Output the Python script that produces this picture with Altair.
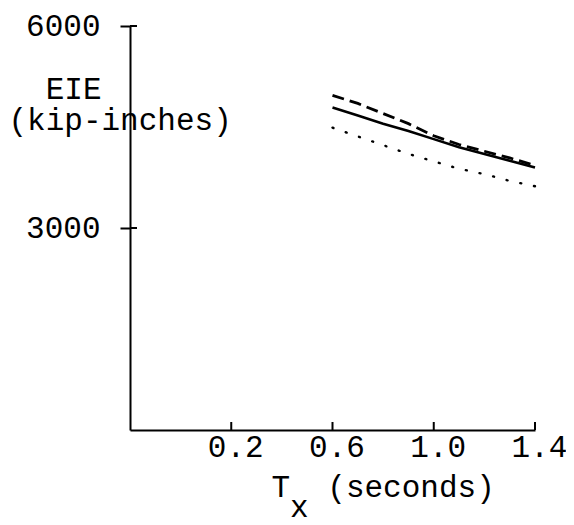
import altair as alt
import pandas as pd

# ---- data ----
periods = [0.6, 0.7, 0.8, 0.9, 1.0, 1.1, 1.2, 1.3, 1.4]
eie_solid = [4790, 4670, 4550, 4440, 4320, 4200, 4100, 4000, 3900]
eie_dashed = [4970, 4850, 4700, 4550, 4370, 4240, 4140, 4040, 3930]
eie_dotted = [4490, 4360, 4230, 4100, 3990, 3880, 3800, 3700, 3620]
x_ticks = [0.2, 0.6, 1.0, 1.4]
y_ticks = [3000, 6000]

df = pd.DataFrame({"T": periods, "solid": eie_solid,
                   "dashed": eie_dashed, "dotted": eie_dotted})
xt = pd.DataFrame({"T": x_ticks})
yt = pd.DataFrame({"solid": y_ticks})

FONT = "Liberation Mono"
FS = 31
ZW = "\u200b"
NB = "\u00a0"

xs = alt.Scale(domain=[-0.2, 1.4], nice=False, zero=False)
ys = alt.Scale(domain=[0, 6000], nice=False)

x_axis = alt.Axis(
    values=x_ticks, format=".1f", grid=False, ticks=False,
    domainColor="black", domainWidth=2,
    labelFont=FONT, labelFontSize=FS, labelColor="black",
    labelPadding=2, labelOffset=4, labelBaseline="top",
    labelFlush=False, labelOverlap=False,
    title=["T" + NB + NB + "(seconds)", ZW + NB + "x"],
    titleFont=FONT, titleFontSize=FS, titleFontWeight="normal",
    titleColor="black", titleAlign="left", titleBaseline="alphabetic",
    titleX=141, titleY=66, titleLineHeight=20,
)
y_axis = alt.Axis(
    values=y_ticks, format="d", grid=False,
    ticks=True, tickSize=10, tickColor="black", tickWidth=2,
    domainColor="black", domainWidth=2,
    labelFont=FONT, labelFontSize=FS, labelColor="black",
    labelPadding=20, labelFlush=False, labelOverlap=False,
    title=[ZW + NB + NB + "EIE", "(kip-inches)"],
    titleFont=FONT, titleFontSize=FS, titleFontWeight="normal",
    titleColor="black", titleAngle=0, titleAlign="left",
    titleBaseline="alphabetic", titleX=-122, titleY=72, titleLineHeight=31,
)

base = alt.Chart(df)

solid = base.mark_line(color="black", strokeWidth=2.6).encode(
    x=alt.X("T:Q", scale=xs, axis=x_axis),
    y=alt.Y("solid:Q", scale=ys, axis=y_axis),
)
dashed = base.mark_line(color="black", strokeWidth=2.8, strokeDash=[12, 6]).encode(
    x=alt.X("T:Q", scale=xs),
    y=alt.Y("dashed:Q", scale=ys),
)
dotted = base.mark_line(color="black", strokeWidth=2.4, strokeDash=[1, 13],
                        strokeCap="round").encode(
    x=alt.X("T:Q", scale=xs),
    y=alt.Y("dotted:Q", scale=ys),
)

# inward parts of the tick marks
xtick_rules = alt.Chart(xt).mark_rule(color="black", strokeWidth=2).encode(
    x=alt.X("T:Q", scale=xs),
    y=alt.value(396), y2=alt.value(404),
)
ytick_rules = alt.Chart(yt).mark_rule(color="black", strokeWidth=2).encode(
    y=alt.Y("solid:Q", scale=ys),
    x=alt.value(0), x2=alt.value(7),
)

chart = alt.layer(solid, dashed, dotted, xtick_rules, ytick_rules).properties(
    width=405, height=404,
    autosize=alt.AutoSizeParams(type="none"),
    padding={"left": 122, "top": 18, "right": 31, "bottom": 95},
    background="white",
).configure_view(stroke=None).configure_axis(grid=False)

chart.save("out.html", embed_options={"renderer": "svg", "actions": False})
